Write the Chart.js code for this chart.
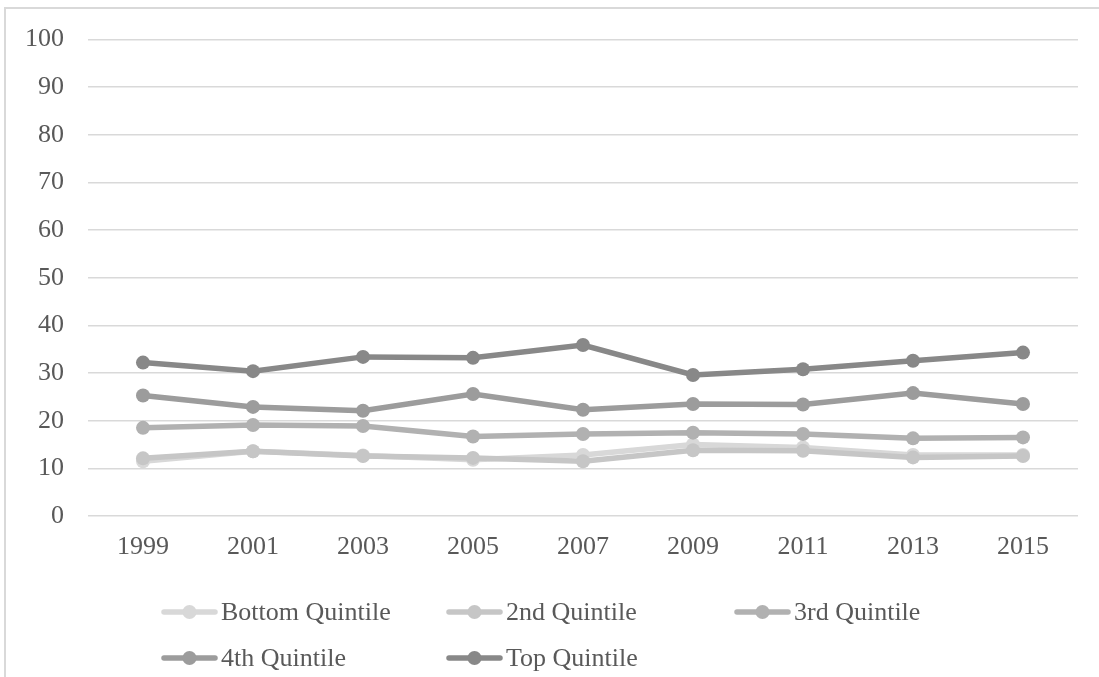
<!DOCTYPE html>
<html>
<head>
<meta charset="utf-8">
<script src="https://cdn.jsdelivr.net/npm/chart.js@4.4.1/dist/chart.umd.min.js"></script>
<style>
  html, body { margin: 0; padding: 0; background: #ffffff; overflow: hidden; }
  #wrap { position: relative; width: 1099px; height: 677px; }
  #frame {
    position: absolute; left: 4px; top: 7px; width: 1200px; height: 800px;
    border-left: 2px solid #d9d9d9; border-top: 2px solid #d9d9d9;
  }
  canvas { position: absolute; left: 0; top: 0; }
</style>
</head>
<body>
<div id="wrap">
  <div id="frame"></div>
  <canvas id="c" width="1099" height="677"></canvas>
</div>
<script>
// Survey years on the x axis
const years = ['1999', '2001', '2003', '2005', '2007', '2009', '2011', '2013', '2015'];

// Share (%) by income quintile
const bottomQuintile = [11.5, 13.6, 12.7, 11.8, 12.8, 15.0, 14.4, 12.8, 12.8];
const secondQuintile = [12.1, 13.6, 12.6, 12.2, 11.5, 13.8, 13.7, 12.3, 12.6];
const thirdQuintile  = [18.5, 19.1, 18.9, 16.7, 17.2, 17.5, 17.2, 16.3, 16.5];
const fourthQuintile = [25.3, 22.9, 22.1, 25.6, 22.3, 23.5, 23.4, 25.8, 23.5];
const topQuintile    = [32.2, 30.4, 33.4, 33.2, 35.9, 29.6, 30.8, 32.6, 34.3];

const seriesNames = ['Bottom Quintile', '2nd Quintile', '3rd Quintile', '4th Quintile', 'Top Quintile'];
const seriesValues = [bottomQuintile, secondQuintile, thirdQuintile, fourthQuintile, topQuintile];
const seriesColors = ['#d8d8d8', '#c6c6c6', '#b1b1b1', '#9c9c9c', '#888888'];

const FONT = '"Liberation Serif", "Times New Roman", serif';
const TEXT_COLOR = '#595959';

const datasets = seriesNames.map((name, i) => ({
  label: name,
  data: seriesValues[i],
  borderColor: seriesColors[i],
  backgroundColor: seriesColors[i],
  pointBackgroundColor: seriesColors[i],
  pointBorderWidth: 0,
  pointRadius: 7,
  borderWidth: 5.5,
  tension: 0,
  fill: false,
  order: seriesNames.length - 1 - i
}));

// Legend laid out in fixed columns: line-with-marker swatch followed by the label
const columnLegend = {
  id: 'columnLegend',
  afterDraw(chart, args, opts) {
    const ctx = chart.ctx;
    ctx.save();
    ctx.font = '26px ' + FONT;
    ctx.textBaseline = 'middle';
    ctx.textAlign = 'left';
    chart.data.datasets.forEach((ds, i) => {
      const col = i % opts.columns.length;
      const row = Math.floor(i / opts.columns.length);
      const x = opts.columns[col];
      const y = opts.rows[row];
      ctx.strokeStyle = ds.borderColor;
      ctx.lineWidth = 5.5;
      ctx.lineCap = 'round';
      ctx.beginPath();
      ctx.moveTo(x + 2, y);
      ctx.lineTo(x + opts.swatch - 2, y);
      ctx.stroke();
      ctx.fillStyle = ds.borderColor;
      ctx.beginPath();
      ctx.arc(x + opts.swatch / 2, y, 7, 0, Math.PI * 2);
      ctx.fill();
      ctx.fillStyle = TEXT_COLOR;
      ctx.fillText(ds.label, x + opts.swatch + 4, y + 1);
    });
    ctx.restore();
  }
};

new Chart(document.getElementById('c'), {
  type: 'line',
  data: { labels: years, datasets },
  plugins: [columnLegend],
  options: {
    responsive: false,
    animation: false,
    layout: { padding: { left: 0, right: 21, top: 38, bottom: 100 } },
    plugins: {
      legend: { display: false },
      tooltip: { enabled: false },
      columnLegend: { columns: [162, 447, 735], rows: [612, 658], swatch: 55 }
    },
    scales: {
      x: {
        offset: true,
        grid: { display: false, drawTicks: false },
        border: { display: false },
        ticks: { color: TEXT_COLOR, font: { family: FONT, size: 26 }, padding: 16, maxRotation: 0 },
        afterFit(scale) { scale.height = 677 - 516 - 100; }
      },
      y: {
        min: 0, max: 100,
        grid: { color: '#d9d9d9', lineWidth: 1.5, drawTicks: false },
        border: { display: false },
        ticks: { stepSize: 10, color: TEXT_COLOR, font: { family: FONT, size: 26 }, padding: 24 },
        afterFit(scale) { scale.width = 88; }
      }
    }
  }
});
</script>
</body>
</html>
